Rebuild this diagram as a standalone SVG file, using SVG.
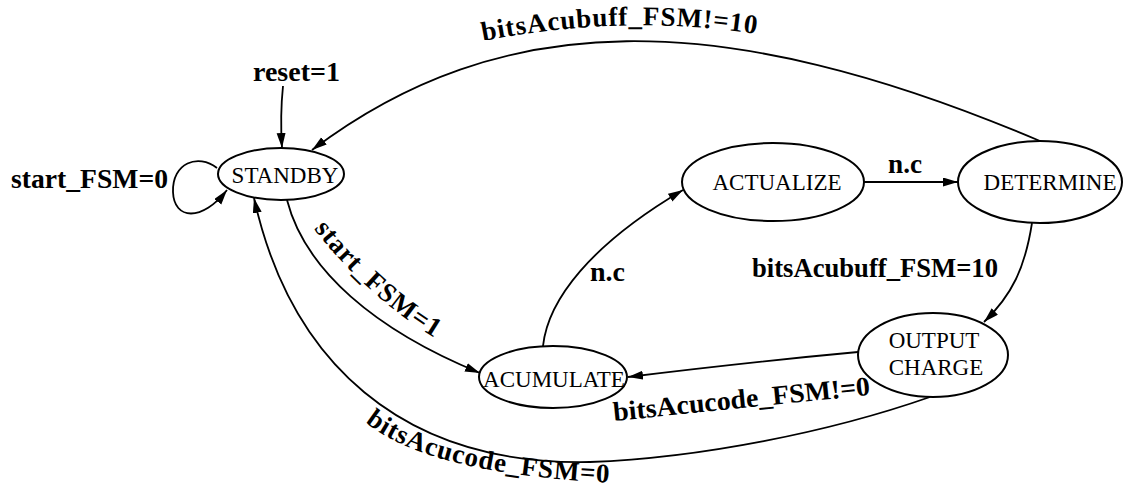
<svg xmlns="http://www.w3.org/2000/svg" width="1126" height="488" viewBox="0 0 1126 488">
  <style>
    .state { fill: #ffffff; stroke: #000000; stroke-width: 2; }
    .state-name { font-size: 23px; fill: #000000; text-anchor: middle; }
    .edge { fill: none; stroke: #000000; stroke-width: 1.8; marker-end: url(#arrow); }
    .cond { font-size: 27px; font-weight: bold; fill: #000000; }
  </style>
  <defs>
    <marker id="arrow" markerUnits="userSpaceOnUse" markerWidth="16" markerHeight="10" refX="15" refY="4.5" orient="auto">
      <path d="M0,0 L15,4.5 L0,9 Z" fill="#000000"/>
    </marker>
    <!-- baselines for the curved condition labels -->
    <path id="lbl-top" d="M478,42 Q628,12 768,36"/>
    <path id="lbl-start1" d="M310,224 Q370,302 450,347"/>
    <path id="lbl-code0" d="M352,410 C390,451 470,476 615,483"/>
  </defs>

  <rect x="0" y="0" width="1126" height="488" fill="#ffffff"/>

  <g font-family="'Liberation Serif', 'DejaVu Serif', serif">
  <!-- transitions -->
  <g id="connectors">
    <g id="edge-reset">
      <path class="edge" d="M283,86 Q280,115 282,148"/>
      <text class="cond" x="253" y="81" textLength="87" lengthAdjust="spacingAndGlyphs">reset=1</text>
    </g>
    <g id="edge-standby-loop">
      <path class="edge" d="M217,168 C198,153 172,163 173,192 C174,220 202,222 227,190"/>
      <text class="cond" x="11" y="188" textLength="157" lengthAdjust="spacingAndGlyphs">start_FSM=0</text>
    </g>
    <g id="edge-determine-standby">
      <path class="edge" d="M1040,141 C720,5 500,8 312,150"/>
      <text class="cond" letter-spacing="0.9"><textPath href="#lbl-top" startOffset="5">bitsAcubuff_FSM!=10</textPath></text>
    </g>
    <g id="edge-standby-acumulate">
      <path class="edge" d="M287,200 C305,270 375,330 480,373"/>
      <text class="cond" letter-spacing="1"><textPath href="#lbl-start1" startOffset="6">start_FSM=1</textPath></text>
    </g>
    <g id="edge-acumulate-actualize">
      <path class="edge" d="M543,346 C548,300 590,245 683,190"/>
      <text class="cond" x="590" y="281" textLength="35" lengthAdjust="spacingAndGlyphs">n.c</text>
    </g>
    <g id="edge-actualize-determine">
      <path class="edge" d="M864,182 L958,182"/>
      <text class="cond" x="888" y="173" textLength="34" lengthAdjust="spacingAndGlyphs">n.c</text>
    </g>
    <g id="edge-determine-output">
      <path class="edge" d="M1032,223 C1025,268 1012,295 984,322"/>
      <text class="cond" x="752" y="277" textLength="246" lengthAdjust="spacingAndGlyphs">bitsAcubuff_FSM=10</text>
    </g>
    <g id="edge-output-acumulate">
      <path class="edge" d="M858,352 Q750,362 628,377"/>
      <text class="cond" x="614" y="421" textLength="258" lengthAdjust="spacingAndGlyphs" transform="rotate(-5.8 614 421)">bitsAcucode_FSM!=0</text>
    </g>
    <g id="edge-output-standby">
      <path class="edge" d="M930,397 C830,432 700,458 590,462 C400,466 290,360 254,198"/>
      <text class="cond" letter-spacing="0.9"><textPath href="#lbl-code0" startOffset="18">bitsAcucode_FSM=0</textPath></text>
    </g>
  </g>

  <!-- states -->
  <g id="node-standby">
    <ellipse class="state" cx="281" cy="174" rx="63" ry="26"/>
    <text class="state-name" x="285" y="183">STANDBY</text>
  </g>
  <g id="node-actualize">
    <ellipse class="state" cx="773" cy="182" rx="91" ry="39"/>
    <text class="state-name" x="777" y="190">ACTUALIZE</text>
  </g>
  <g id="node-determine">
    <ellipse class="state" cx="1040" cy="182" rx="82" ry="41"/>
    <text class="state-name" x="1050" y="190">DETERMINE</text>
  </g>
  <g id="node-acumulate">
    <ellipse class="state" cx="553" cy="377" rx="74" ry="31"/>
    <text class="state-name" x="554" y="387">ACUMULATE</text>
  </g>
  <g id="node-output-charge">
    <ellipse class="state" cx="933" cy="355" rx="75" ry="42"/>
    <text class="state-name" x="934" y="348">OUTPUT</text>
    <text class="state-name" x="936" y="375">CHARGE</text>
  </g>
  </g>
</svg>
